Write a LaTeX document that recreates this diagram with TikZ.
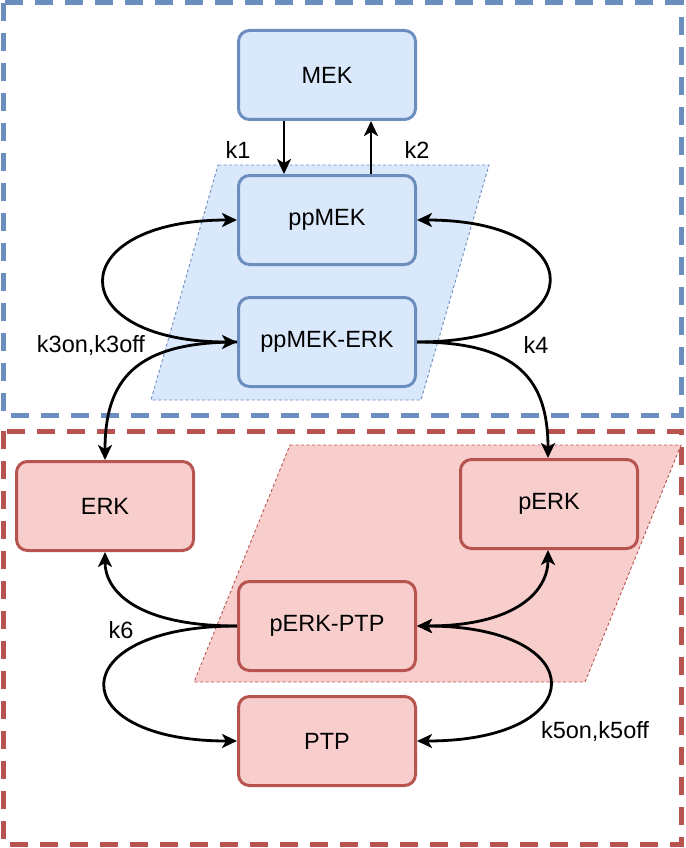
\documentclass[tikz,border=0pt]{standalone}
\usepackage{fontspec}
\setmainfont{Liberation Sans}
\usetikzlibrary{arrows.meta}
\definecolor{mekfill}{HTML}{DAE8FC}
\definecolor{mekline}{HTML}{6C8EBF}
\definecolor{erkfill}{HTML}{F8CECC}
\definecolor{erkline}{HTML}{B85450}

\begin{document}
\begin{tikzpicture}[x=1pt,y=-1pt,font=\fontsize{23.5}{27}\selectfont,
    >={Stealth[length=15pt,width=14pt,inset=4pt]},
    mekbox/.style={draw=mekline,fill=mekfill,line width=3pt,rounded corners=11pt,minimum width=177pt,minimum height=89pt},
    erkbox/.style={draw=erkline,fill=erkfill,line width=3pt,rounded corners=11pt,minimum width=177pt,minimum height=89pt},
    zone/.style={line width=5pt,dash pattern=on 18pt off 12pt},
    cplx/.style={line width=0.9pt,dash pattern=on 3pt off 2.5pt},
    react/.style={line width=2.8pt}]
	\useasboundingbox (0,0) rectangle (685,848);
	% compartments
	\draw[zone,draw=mekline] (3,3) rectangle (681,415);
	\draw[zone,draw=erkline] (3,431) rectangle (681,844);
	\draw[cplx,draw=mekline,fill=mekfill] (218,165) -- (489,165) -- (421,400) -- (151,400) -- cycle;
	\draw[cplx,draw=erkline,fill=erkfill] (290,445) -- (681,445) -- (585,682) -- (194,682) -- cycle;
	% species
	\node[mekbox] (mek) at (327,75) {MEK};
	\node[mekbox] (ppmek) at (327,220) {ppMEK};
	\node[mekbox] (ppmekerk) at (327,342) {ppMEK-ERK};
	\node[erkbox] (erk) at (105,506) {ERK};
	\node[erkbox] (perk) at (549,504) {pERK};
	\node[erkbox] (perkptp) at (327,626) {pERK-PTP};
	\node[erkbox] (ptp) at (327,741) {PTP};
	% rates
	\node (k1) at (238,150) {k1};
	\node (k2) at (417,150) {k2};
	\node (k3) at (91,345) {k3on,k3off};
	\node (k4) at (536,345) {k4};
	\node (k6) at (121,630) {k6};
	\node (k5) at (595,731) {k5on,k5off};
	% reactions
	\draw[react,->] ([xshift=-43pt]mek.south) -- ([xshift=-43pt]ppmek.north);
	\draw[react,->] ([xshift=44pt]ppmek.north) -- ([xshift=44pt]mek.south);
	\draw[react,<->] (ppmek.west) .. controls (61,220) and (61,342) .. (ppmekerk.west);
	\draw[react,->] (ppmekerk.west) .. controls (135,342) and (105,380) .. (erk.north);
	\draw[react,->] (ppmekerk.east) .. controls (593,342) and (593,220) .. (ppmek.east);
	\draw[react,->] (ppmekerk.east) .. controls (518,342) and (548,380) .. ([xshift=-1pt]perk.north);
	\draw[react,->] (perkptp.west) .. controls (135,626) and (105,590) .. (erk.south);
	\draw[react,->] (perkptp.west) .. controls (61,626) and (61,741) .. (ptp.west);
	\draw[react,<->] (perkptp.east) .. controls (518,626) and (548,590) .. ([xshift=-1pt]perk.south);
	\draw[react,<->] (perkptp.east) .. controls (593,626) and (593,741) .. (ptp.east);
\end{tikzpicture}
\end{document}
